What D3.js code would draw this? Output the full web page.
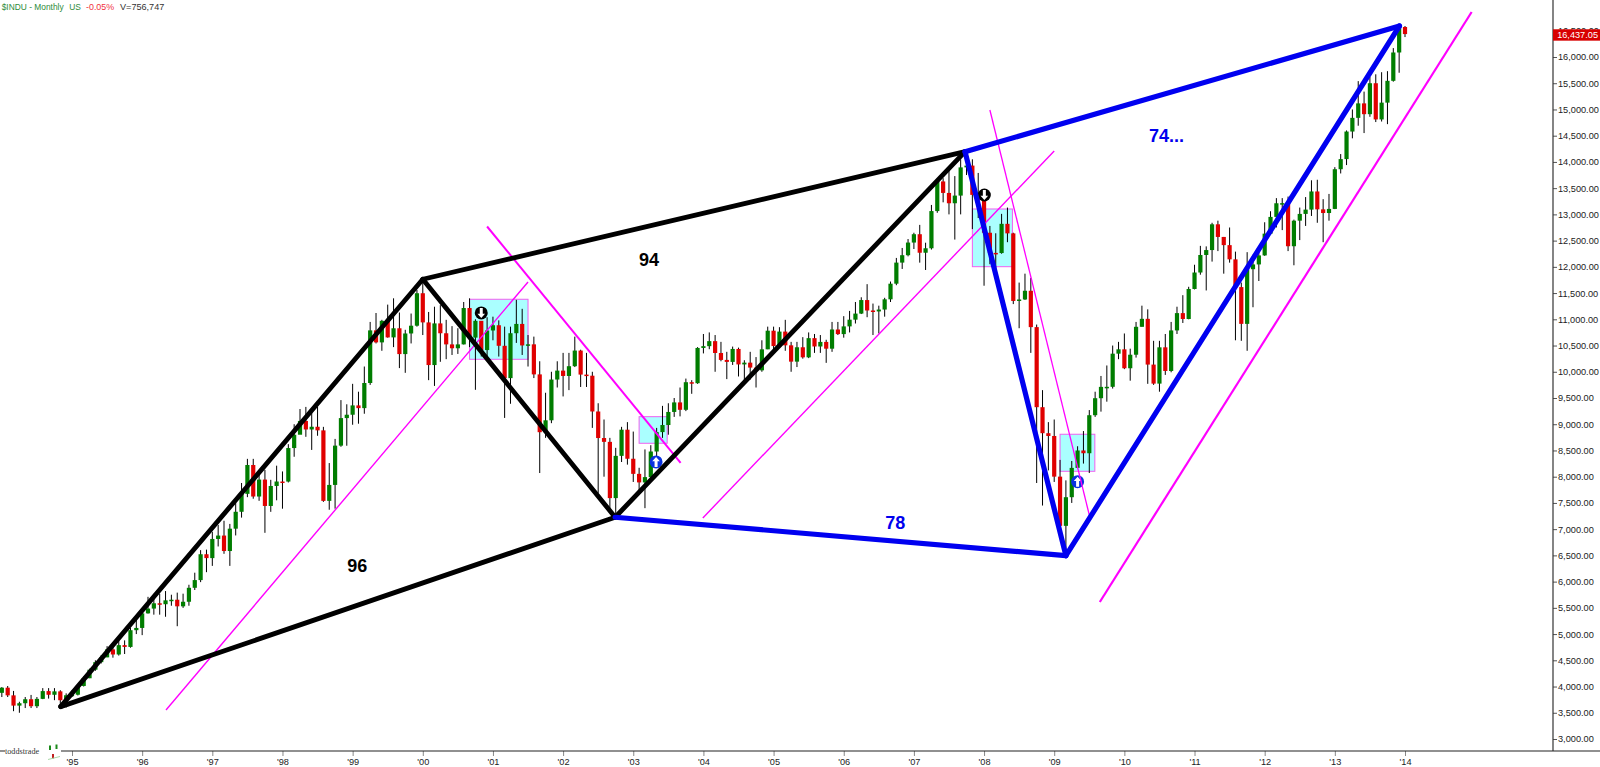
<!DOCTYPE html>
<html>
<head>
<meta charset="utf-8">
<title>$INDU Monthly</title>
<script src="https://cdn.jsdelivr.net/npm/d3@7"></script>
<style>
    html, body { margin: 0; padding: 0; background: #fff; overflow: hidden; }
    svg { display: block; font-family: "Liberation Sans", Arial, sans-serif; }
</style>
</head>
<body>
<div id="chart"></div>
<script>
// Monthly bars, Jan 1994 to Jan 2014, one row per year
const opens = [
    3880,3978,3832,3636,3682,3758,3625,3765,3913,3843,3908,3739,
    3834,3844,4011,4158,4321,4465,4556,4708,4611,4789,4755,5074,
    5117,5395,5486,5587,5569,5643,5655,5529,5616,5882,6029,6522,
    6448,6813,6878,6583,7009,7331,7673,8223,7622,7945,7442,7823,
    7908,7907,8546,8800,9063,8900,8952,8883,7539,7843,8592,9117,
    9181,9359,9307,9786,10789,10560,10971,10655,10829,10337,10730,10878,
    11497,10941,10128,10922,10734,10522,10448,10522,11215,10651,10971,10414,
    10787,10887,10495,9879,10735,10912,10502,10523,9950,8848,9075,9852,
    10022,9920,10106,10404,9946,9925,9243,8737,8664,7592,8397,8896,
    8342,8054,7891,7992,8480,8850,8985,9234,9416,9275,9801,9782,
    10454,10488,10584,10358,10226,10188,10435,10140,10174,10080,10027,10428,
    10783,10490,10766,10504,10193,10467,10275,10641,10482,10569,10440,10806,
    10718,10865,10993,11109,11367,11168,11150,11186,11381,11679,12081,12222,
    12463,12622,12269,12354,13063,13628,13409,13212,13358,13896,13930,13372,
    13265,12650,12266,12263,12820,12638,11350,11378,11544,10851,9325,8829,
    8776,8001,7063,7609,8168,8500,8447,9172,9496,9712,9713,10345,
    10428,10067,10325,10857,11009,10137,9774,10466,10015,10788,11118,11006,
    11578,11892,12226,12320,12811,12570,12414,12143,11614,10913,11955,12046,
    12218,12633,12952,13212,13214,12393,12880,13009,13091,13437,13096,13026,
    13104,13861,14054,14579,14840,15116,14910,15500,14810,15130,15546,16086,
    16572
];
const highs = [
    3990,4010,3916,3710,3800,3840,3800,3970,3970,3970,3930,3870,
    3925,4040,4190,4340,4500,4600,4770,4790,4880,4880,5120,5270,
    5430,5710,5690,5770,5820,5750,5790,5770,5940,6170,6600,6610,
    6950,7080,7160,7100,7500,7880,8340,8340,8080,8130,7940,8210,
    8100,8620,9000,9290,9330,9280,9330,8950,8260,8720,9460,9380,
    9770,9620,10100,10950,11120,10990,11280,11400,11130,10800,11110,11560,
    11750,11140,11240,11270,10990,10870,10830,11330,11400,11000,10950,11040,
    11050,10980,10860,10860,11370,11200,10700,10670,10200,9600,10000,10200,
    10360,10360,10670,10420,10360,10000,9400,9090,8740,8550,8950,9040,
    8860,8170,8520,8600,8930,9350,9400,9500,9700,9870,9840,10470,
    10720,10750,10700,10570,10380,10480,10460,10220,10380,10280,10600,10860,
    10860,10850,10990,10570,10570,10660,10750,10720,10700,10610,10950,10950,
    11060,11160,11330,11420,11670,11300,11260,11410,11720,12170,12360,12530,
    12650,12800,12460,13180,13650,13690,13850,13730,14050,14198,14050,13790,
    13470,12780,12640,13010,13130,12650,11700,11870,11790,10900,9650,9040,
    9090,8320,7930,8300,8580,8870,9270,9620,9920,10120,10500,10570,
    10730,10440,10950,11260,11190,10590,10590,10720,10950,11240,11460,11620,
    12040,12400,12390,12840,12880,12570,12750,12290,11700,12280,12230,12290,
    12850,13060,13310,13310,13340,12900,13130,13330,13650,13660,13290,13390,
    13900,14150,14600,15000,15540,15340,15620,15670,15710,15730,16170,16590,
    16590
];
const lows = [
    3800,3800,3530,3500,3590,3590,3590,3760,3770,3740,3610,3600,
    3800,3830,4000,4160,4300,4440,4560,4550,4590,4620,4740,5000,
    4980,5390,5370,5370,5330,5540,5150,5500,5540,5840,5990,6180,
    6300,6670,6530,6300,6880,7220,7610,7580,7540,6930,7330,7550,
    7390,7890,8380,8820,8760,8510,8780,7520,7370,7390,8570,8590,
    8990,9010,9200,9750,10540,10400,10650,10470,10070,9980,10540,10860,
    10700,9840,9730,10190,10240,10320,10340,10520,10470,9656,10290,10240,
    10600,10290,9120,9390,10550,10320,10100,9880,8070,8740,9020,9700,
    9530,9650,10090,9710,9710,8930,7690,8000,7400,7286,8280,8230,
    7900,7730,7400,7950,8320,8740,8800,9140,9150,9250,9580,9770,
    10350,10430,10000,10200,9860,10130,9910,9800,9850,9700,10000,10430,
    10360,10470,10400,10000,10090,10250,10260,10360,10360,10170,10380,10700,
    10650,10750,10920,11100,11040,10700,10730,11050,11330,11650,11960,12200,
    12340,12080,11940,12330,13030,13230,13000,12520,13000,13750,12720,12930,
    11640,12050,11730,12250,12470,11290,10830,11370,10360,7880,7450,8120,
    7900,6900,6470,7500,8170,8250,8070,9140,9240,9430,9680,10240,
    10050,9830,10270,10860,9770,9750,9620,9940,9990,10720,10930,11000,
    11570,11850,11550,12100,12300,11870,12080,10600,10590,10400,11230,11730,
    12210,12630,12750,12700,12300,12030,12510,12780,12970,12840,12470,12880,
    13100,13780,13940,14450,14690,14550,14860,14760,14770,14720,15530,15700,
    16380
];
const closes = [
    3978,3832,3636,3682,3758,3625,3765,3913,3843,3908,3739,3834,
    3844,4011,4158,4321,4465,4556,4708,4611,4789,4755,5074,5117,
    5395,5486,5587,5569,5643,5655,5529,5616,5882,6029,6522,6448,
    6813,6878,6583,7009,7331,7673,8223,7622,7945,7442,7823,7908,
    7907,8546,8800,9063,8900,8952,8883,7539,7843,8592,9117,9181,
    9359,9307,9786,10789,10560,10971,10655,10829,10337,10730,10878,11497,
    10941,10128,10922,10734,10522,10448,10522,11215,10651,10971,10414,10787,
    10887,10495,9879,10735,10912,10502,10523,9950,8848,9075,9852,10022,
    9920,10106,10404,9946,9925,9243,8737,8664,7592,8397,8896,8342,
    8054,7891,7992,8480,8850,8985,9234,9416,9275,9801,9782,10454,
    10488,10584,10358,10226,10188,10435,10140,10174,10080,10027,10428,10783,
    10490,10766,10504,10193,10467,10275,10641,10482,10569,10440,10806,10718,
    10865,10993,11109,11367,11168,11150,11186,11381,11679,12081,12222,12463,
    12622,12269,12354,13063,13628,13409,13212,13358,13896,13930,13372,13265,
    12650,12266,12263,12820,12638,11350,11378,11544,10851,9325,8829,8776,
    8001,7063,7609,8168,8500,8447,9172,9496,9712,9713,10345,10428,
    10067,10325,10857,11009,10137,9774,10466,10015,10788,11118,11006,11578,
    11892,12226,12320,12811,12570,12414,12143,11614,10913,11955,12046,12218,
    12633,12952,13212,13214,12393,12880,13009,13091,13437,13096,13026,13104,
    13861,14054,14579,14840,15116,14910,15500,14810,15130,15546,16086,16577,
    16437
];

// Axis ticks
const priceTicks = [3000,3500,4000,4500,5000,5500,6000,6500,7000,7500,8000,8500,9000,9500,
    10000,10500,11000,11500,12000,12500,13000,13500,14000,14500,15000,15500,16000,16500];
const yearBars = [12,24,36,48,60,72,84,96,108,120,132,144,156,168,180,192,204,216,228,240];
const yearLabels = ["'95","'96","'97","'98","'99","'00","'01","'02","'03","'04","'05","'06",
    "'07","'08","'09","'10","'11","'12","'13","'14"];

// Pivots of the drawn pattern, as [bar number, price]
const pivotA = [10.07, 3617];
const pivotB = [72, 11763];
const pivotC = [104.9, 7227];
const pivotD = [164.75, 14195];
const pivotE = [182, 6495];
const pivotF = [239.05, 16591];
const blackLegs = [[pivotA, pivotB], [pivotA, pivotC], [pivotB, pivotC], [pivotB, pivotD], [pivotC, pivotD]];
const blueLegs = [[pivotC, pivotE], [pivotD, pivotE], [pivotD, pivotF], [pivotE, pivotF]];

// Pink trend lines: from, to, width
const trendFrom = [[28.08, 3554], [83, 12769], [119.9, 7213], [169, 14990], [187.8, 5612]];
const trendTo = [[90, 11712], [116.1, 8262], [180, 14208], [186, 7270], [251.4, 16858]];
const trendWidths = [1.4, 2, 1.4, 1.3, 2.2];

// Cyan boxes: first bar, last bar, top price, bottom price
const boxes = [
    [80, 90, 11382, 10238],
    [109, 113.8, 9144, 8637],
    [166, 172.85, 13103, 12003],
    [181, 186.95, 8809, 8103]
];

// Arrow signals: bar, price, direction
const signals = [[82, 11121, "down"], [111.9, 8281, "up"], [168.05, 13370, "down"], [184, 7905, "up"]];

// Count labels: bar, price, text, colour
const counts = [
    [60.8, 6311, "96", "#000"],
    [110.7, 12145, "94", "#000"],
    [152.8, 7122, "78", "#0000ee"],
    [199.2, 14504, "74...", "#0000ee"]
];

const width = 1600, height = 767;
const axisX = 1553, axisY = 751;

const svg = d3.select("#chart").append("svg")
    .attr("width", width)
    .attr("height", height);

const x = d3.scaleLinear().domain([12, 240]).range([72, 1405]);
const y = d3.scaleLinear().domain([3000, 16000]).range([739, 57]);

// Boxes go under the candles
svg.selectAll(".box")
    .data(boxes)
    .enter().append("rect")
    .attr("class", "box")
    .attr("x", d => x(d[0]))
    .attr("y", d => y(d[2]))
    .attr("width", d => x(d[1]) - x(d[0]))
    .attr("height", d => y(d[3]) - y(d[2]))
    .attr("fill", "#aaffff")
    .attr("stroke", "#f060f0")
    .attr("stroke-width", 1);

// Candles
const bars = svg.append("g").selectAll("g")
    .data(closes)
    .enter().append("g");

bars.append("line")
    .attr("x1", (d, i) => x(i))
    .attr("x2", (d, i) => x(i))
    .attr("y1", (d, i) => y(highs[i]))
    .attr("y2", (d, i) => y(lows[i]))
    .attr("stroke", "#000")
    .attr("stroke-width", 1);

bars.append("rect")
    .attr("x", (d, i) => x(i) - 2.1)
    .attr("width", 4.2)
    .attr("y", (d, i) => y(Math.max(opens[i], closes[i])))
    .attr("height", (d, i) => Math.max(1.5, Math.abs(y(opens[i]) - y(closes[i]))))
    .attr("fill", (d, i) => closes[i] >= opens[i] ? "#007d00" : "#e00000");

// Signal arrows
const signal = svg.selectAll(".signal")
    .data(signals)
    .enter().append("g")
    .attr("class", "signal")
    .attr("transform", d => `translate(${x(d[0])},${y(d[1])})`);

signal.append("circle")
    .attr("r", 6.5)
    .attr("fill", d => d[2] === "up" ? "#0a32e0" : "#000");

signal.append("path")
    .attr("d", d => d[2] === "up"
        ? "M0,-5 L3.8,-0.8 L1.5,-0.8 L1.5,5 L-1.5,5 L-1.5,-0.8 L-3.8,-0.8 Z"
        : "M0,5 L3.8,0.8 L1.5,0.8 L1.5,-5 L-1.5,-5 L-1.5,0.8 L-3.8,0.8 Z")
    .attr("fill", "#fff");

// Trend lines
svg.selectAll(".trend")
    .data(trendFrom)
    .enter().append("line")
    .attr("class", "trend")
    .attr("x1", d => x(d[0]))
    .attr("y1", d => y(d[1]))
    .attr("x2", (d, i) => x(trendTo[i][0]))
    .attr("y2", (d, i) => y(trendTo[i][1]))
    .attr("stroke", "#ff00ff")
    .attr("stroke-width", (d, i) => trendWidths[i]);

// Pattern legs
const leg = d3.line().x(d => x(d[0])).y(d => y(d[1]));

svg.selectAll(".black-leg")
    .data(blackLegs)
    .enter().append("path")
    .attr("class", "black-leg")
    .attr("d", leg)
    .attr("fill", "none")
    .attr("stroke", "#000")
    .attr("stroke-width", 4.8)
    .attr("stroke-linecap", "round");

svg.selectAll(".blue-leg")
    .data(blueLegs)
    .enter().append("path")
    .attr("class", "blue-leg")
    .attr("d", leg)
    .attr("fill", "none")
    .attr("stroke", "#0000f0")
    .attr("stroke-width", 5.2)
    .attr("stroke-linecap", "round");

// Count labels
svg.selectAll(".count")
    .data(counts)
    .enter().append("text")
    .attr("class", "count")
    .attr("x", d => x(d[0]))
    .attr("y", d => y(d[1]))
    .attr("dy", ".35em")
    .attr("text-anchor", "middle")
    .style("font-size", "18px")
    .style("font-weight", "bold")
    .attr("fill", d => d[3])
    .text(d => d[2]);

// Axes
const rightAxis = svg.append("g")
    .attr("transform", `translate(${axisX},0)`)
    .call(d3.axisRight(y).tickValues(priceTicks).tickSize(4).tickPadding(1).tickFormat(d3.format(",.2f")));
rightAxis.select(".domain").remove();
rightAxis.selectAll("line").attr("stroke", "#555");
rightAxis.selectAll("text").attr("fill", "#222").style("font-size", "9.2px").style("font-family", "inherit");

const bottomAxis = svg.append("g")
    .attr("transform", `translate(0,${axisY})`)
    .call(d3.axisBottom(x).tickValues(yearBars).tickSize(5).tickPadding(2).tickFormat((d, i) => yearLabels[i]));
bottomAxis.select(".domain").remove();
bottomAxis.selectAll("line").attr("stroke", "#888");
bottomAxis.selectAll("text").attr("fill", "#222").style("font-size", "9.2px").style("font-family", "inherit");

svg.append("line")
    .attr("x1", axisX).attr("x2", axisX)
    .attr("y1", 0).attr("y2", axisY)
    .attr("stroke", "#333").attr("stroke-width", 1.2);
svg.append("line")
    .attr("x1", 0).attr("x2", width)
    .attr("y1", axisY).attr("y2", axisY)
    .attr("stroke", "#222").attr("stroke-width", 1.2);

// Last price flag
const lastPrice = closes[closes.length - 1];
svg.append("rect")
    .attr("x", axisX)
    .attr("y", y(lastPrice) - 4.8)
    .attr("width", width - axisX)
    .attr("height", 11.4)
    .attr("fill", "#d80000");
svg.append("text")
    .attr("x", 1598)
    .attr("y", y(lastPrice) + 1)
    .attr("dy", ".35em")
    .attr("text-anchor", "end")
    .attr("fill", "#fff")
    .style("font-size", "9.2px")
    .text(d3.format(",.2f")(16437.05));

// Title line, pieces placed one by one
const titleParts = [
    [1.7, 8.4, "#2e8b3a", "$INDU - Monthly"],
    [69.3, 8.4, "#2e8b3a", "US"],
    [86, 8.9, "#f03040", "-0.05%"],
    [120, 9.1, "#333", "V=756,747"]
];
svg.selectAll(".title-part")
    .data(titleParts)
    .enter().append("text")
    .attr("class", "title-part")
    .attr("x", d => d[0])
    .attr("y", 10)
    .style("font-size", d => d[1] + "px")
    .attr("fill", d => d[2])
    .text(d => d[3]);

// Logo over the axis
svg.append("rect").attr("x", 5).attr("y", 744).attr("width", 56).attr("height", 16).attr("fill", "#fff");
svg.append("text")
    .attr("x", 5).attr("y", 754)
    .style("font-family", "'Liberation Serif', serif")
    .style("font-size", "8.2px")
    .attr("fill", "#333")
    .text("toddstrade");
const logoMarks = [[50, 745.5, "#1a8a1a"], [56.5, 744.5, "#1a8a1a"], [53, 754, "#c02020"]];
svg.selectAll(".logo-mark")
    .data(logoMarks)
    .enter().append("rect")
    .attr("class", "logo-mark")
    .attr("x", d => d[0] - 1).attr("y", d => d[1])
    .attr("width", 2).attr("height", 4.5)
    .attr("fill", d => d[2]);
svg.append("line")
    .attr("x1", 48).attr("y1", 759.5).attr("x2", 60).attr("y2", 756.5)
    .attr("stroke", "#a8d8a8").attr("stroke-width", 1);
</script>
</body>
</html>
